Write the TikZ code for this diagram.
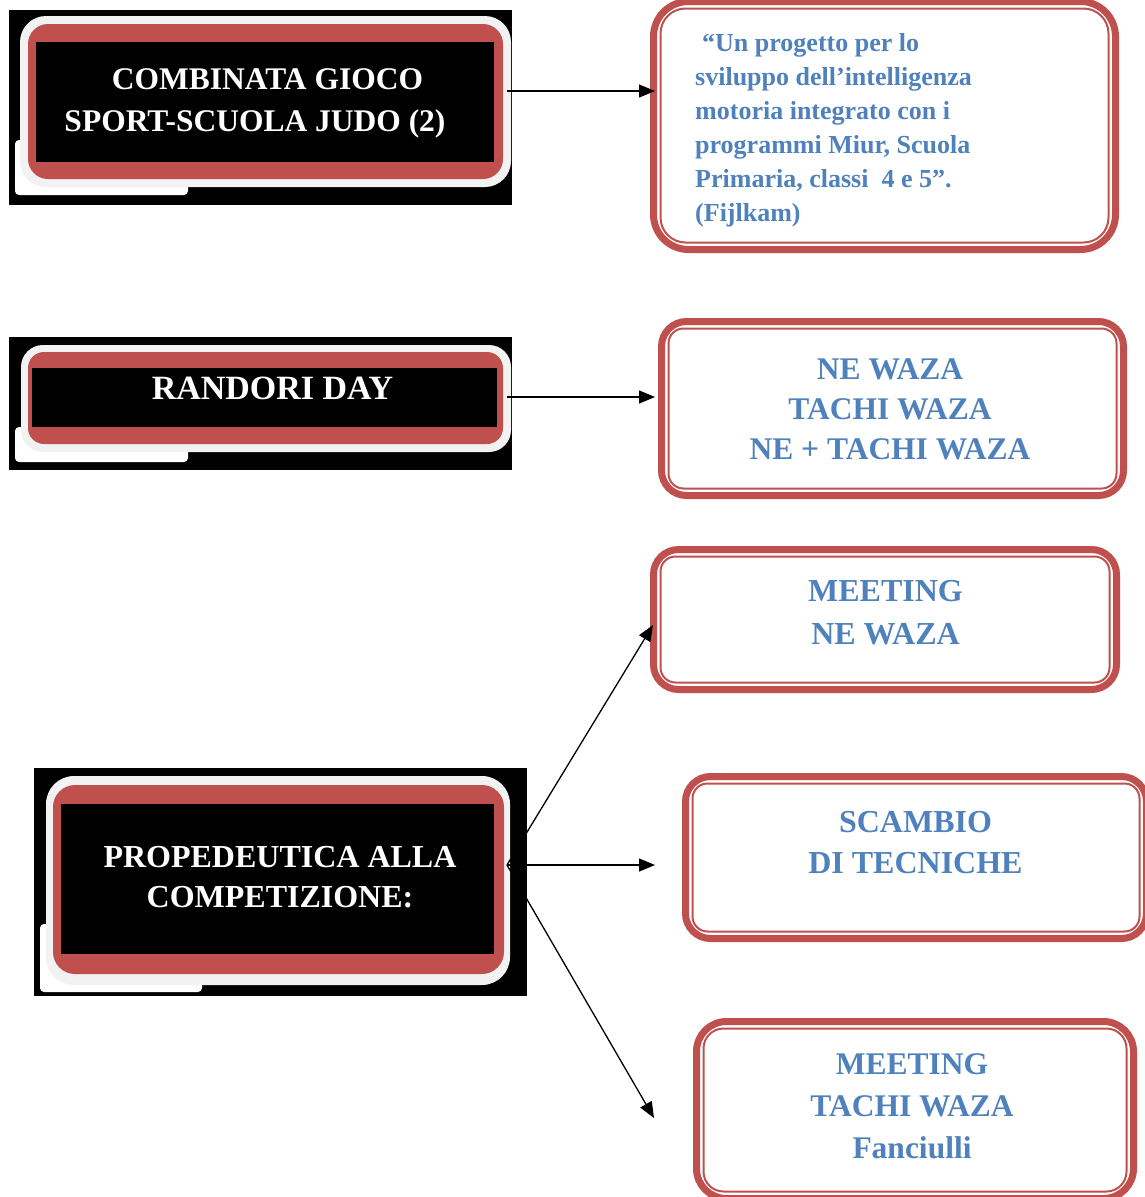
\documentclass[tikz,border=0pt]{standalone}
\usepackage{fontspec}
\setmainfont{Liberation Serif}
\usetikzlibrary{arrows.meta}
\definecolor{boxred}{HTML}{C0504D}
\definecolor{txtblue}{HTML}{4F81BD}
\definecolor{ringgray}{HTML}{F2F2F2}
\begin{document}
\begin{tikzpicture}[x=1pt,y=-1pt,
  blackbg/.style={fill=black, draw=none, inner sep=0pt, outer sep=0pt},
  whitepiece/.style={fill=white, draw=none, rounded corners=4pt},
  grayring/.style={fill=ringgray, draw=none, rounded corners=#1},
  redband/.style={fill=boxred, draw=none, rounded corners=#1},
  lefttext/.style={text=white, align=center, inner sep=0pt},
  rbox/.style={draw=boxred, line width=7pt, fill=white, rounded corners=#1, inner sep=0pt},
  rbox/.default=25pt,
  rinner/.style={draw=boxred, line width=2pt, rounded corners=#1},
  rinner/.default=15pt,
  rtext/.style={text=txtblue, align=center, inner sep=0pt},
  arr/.style={-{Triangle[length=16pt,width=13pt]}, line width=1.3pt, black}
]
\useasboundingbox (0,0) rectangle (1145,1197);

% ---------- left box 1 ----------
\node[blackbg, minimum width=503pt, minimum height=195pt] (l1) at (260.5,107.5) {};
\fill[whitepiece] (15,140) rectangle (188,195);
\fill[grayring=26pt] (20,16) rectangle (511,187);
\fill[redband=20pt] (28,24) rectangle (503,179);
\fill[black] (36,42) rectangle (494,162);
\node[lefttext, font={\fontsize{31.5}{42}\selectfont\bfseries}] (l1t) at (255,103.6)
  {\hspace*{25pt}COMBINATA GIOCO\\SPORT-SCUOLA JUDO (2)};

% ---------- left box 2 ----------
\node[blackbg, minimum width=503pt, minimum height=133pt] (l2) at (260.5,403.5) {};
\fill[whitepiece] (15,427) rectangle (188,462);
\fill[grayring=22pt] (21,345) rectangle (511,452);
\fill[redband=16pt] (28,352) rectangle (503,444);
\fill[black] (32,368) rectangle (497,427);
\node[lefttext, font={\fontsize{34}{40}\selectfont\bfseries}] (l2t) at (272.5,388)
  {RANDORI DAY};

% ---------- left box 3 ----------
\node[blackbg, minimum width=493pt, minimum height=228pt] (l3) at (280.5,882) {};
\fill[whitepiece] (40,924) rectangle (202,992);
\fill[grayring=28pt] (46,776) rectangle (510,985);
\fill[redband=22pt] (53,785) rectangle (504,974);
\fill[black] (61,804) rectangle (494,954);
\node[lefttext, font={\fontsize{32}{40}\selectfont\bfseries}] (l3t) at (280,877)
  {PROPEDEUTICA ALLA\\COMPETIZIONE:};

% ---------- right boxes ----------
\node[rbox=35pt, minimum width=462pt, minimum height=248pt] (r1) at (884.5,125.5) {};
\draw[rinner=25pt] ([shift={(10.5,10.5)}]r1.north west) rectangle ([shift={(-10.5,-10.5)}]r1.south east);
\node[rtext, align=left, anchor=west, font={\fontsize{26}{34}\selectfont\bfseries}] (r1t) at (695,130.6)
  {\hspace*{7pt}“Un progetto per lo\\sviluppo dell’intelligenza\\motoria integrato con i\\programmi Miur, Scuola\\Primaria, classi\ \ 4 e 5”.\\(Fijlkam)};

\node[rbox=25pt, minimum width=462pt, minimum height=174pt] (r2) at (892.5,408.5) {};
\draw[rinner=15pt] ([shift={(10.5,10.5)}]r2.north west) rectangle ([shift={(-10.5,-10.5)}]r2.south east);
\node[rtext, font={\fontsize{31.5}{40}\selectfont\bfseries}] (r2t) at (890,409.5)
  {NE WAZA\\TACHI WAZA\\NE + TACHI WAZA};

\node[rbox=25pt, minimum width=463pt, minimum height=140pt] (r3) at (885,619.5) {};
\draw[rinner=15pt] ([shift={(10.5,10.5)}]r3.north west) rectangle ([shift={(-10.5,-10.5)}]r3.south east);
\node[rtext, font={\fontsize{32}{43}\selectfont\bfseries}] (r3t) at (885.5,612.5)
  {MEETING\\NE WAZA};

\node[rbox=25pt, minimum width=461pt, minimum height=162pt] (r4) at (916,857.5) {};
\draw[rinner=15pt] ([shift={(10.5,10.5)}]r4.north west) rectangle ([shift={(-10.5,-10.5)}]r4.south east);
\node[rtext, font={\fontsize{32}{41}\selectfont\bfseries}] (r4t) at (915.5,842.5)
  {SCAMBIO\\DI TECNICHE};

\node[rbox=30pt, minimum width=437pt, minimum height=177pt] (r5) at (915,1110) {};
\draw[rinner=20pt] ([shift={(10.5,10.5)}]r5.north west) rectangle ([shift={(-10.5,-10.5)}]r5.south east);
\node[rtext, font={\fontsize{31.5}{42}\selectfont\bfseries}] (r5t) at (912,1106)
  {MEETING\\TACHI WAZA\\Fanciulli};

% ---------- connectors ----------
\coordinate (s1) at ([shift={(-5,-16.5)}]l1.east);
\coordinate (s2) at ([shift={(-5,-6.5)}]l2.east);
\coordinate (hub) at ([shift={(-20,-17)}]l3.east);
\coordinate (t4) at (655,865);
\coordinate (t5) at (654,1118);

\draw[arr] (s1) -- ([xshift=5pt]s1 -| r1.west);
\draw[arr] (s2) -- ([xshift=-3pt]s2 -| r2.west);
\draw[arr] (hub) -- ([shift={(3,5.5)}]r3.west);
\draw[arr] (hub) -- (t4);
\draw[arr] (hub) -- (t5);
\end{tikzpicture}
\end{document}
